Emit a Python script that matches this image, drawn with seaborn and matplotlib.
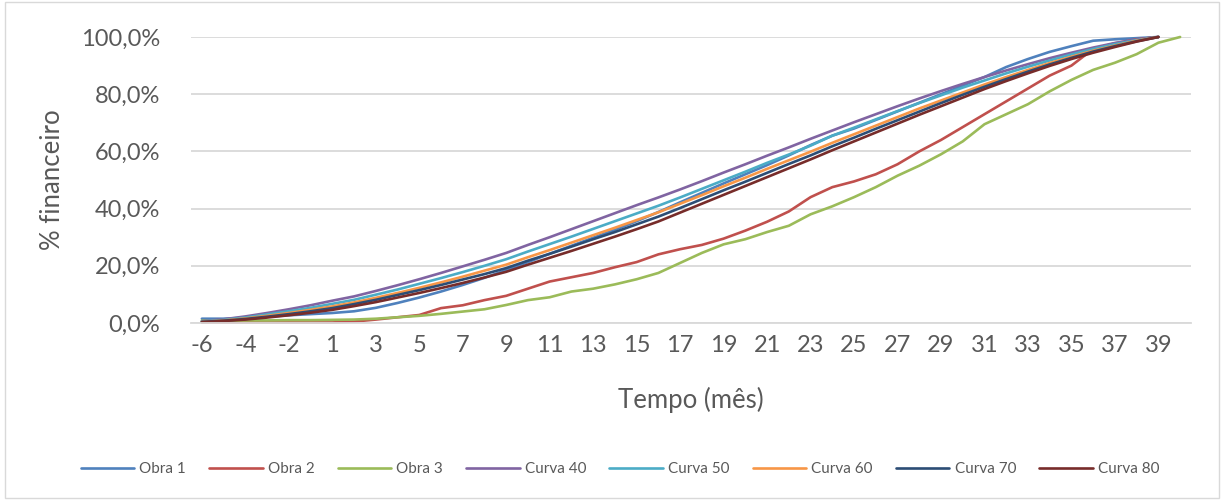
import numpy as np
import pandas as pd
import matplotlib
matplotlib.use("Agg")
import matplotlib.pyplot as plt
from matplotlib.ticker import FuncFormatter, FixedLocator
from matplotlib.patches import Rectangle
import seaborn as sns

# Months of the schedule (there is no month 0)
months = list(range(-6, 0)) + list(range(1, 41))

obra_1 = [1.5, 1.5, 1.8, 2.2, 2.7, 3.1, 3.5, 4.1, 5.3, 7.0, 8.9, 11.0, 13.3, 15.8, 18.5, 21.3,
          24.2, 27.0, 29.8, 32.6, 35.6, 38.8, 42.2, 45.5, 48.8, 52.0, 55.2, 58.6, 62.2, 65.5,
          68.0, 71.0, 74.0, 77.0, 80.0, 83.0, 86.0, 89.5, 92.3, 94.8, 96.8, 98.7, 99.2, 99.6,
          100.0, None]
obra_2 = [0.2, 0.2, 0.2, 0.2, 0.2, 0.2, 0.2, 0.5, 1.2, 2.0, 2.8, 5.2, 6.2, 8.0, 9.5, 12.0,
          14.5, 16.0, 17.5, 19.5, 21.3, 24.0, 25.8, 27.3, 29.5, 32.3, 35.4, 39.0, 44.0, 47.5,
          49.5, 52.0, 55.5, 60.0, 64.0, 68.5, 73.0, 77.5, 82.0, 86.5, 90.0, 95.8, 97.8, 99.2,
          100.0, None]
obra_3 = [0.8, 0.8, 0.9, 0.9, 1.0, 1.0, 1.1, 1.2, 1.5, 2.0, 2.5, 3.2, 4.0, 4.8, 6.3, 8.0,
          9.0, 11.0, 12.0, 13.5, 15.3, 17.5, 21.0, 24.5, 27.5, 29.3, 31.8, 34.0, 38.0, 40.8,
          44.0, 47.5, 51.5, 55.0, 59.0, 63.5, 69.5, 73.0, 76.5, 81.0, 85.0, 88.5, 91.0, 94.0,
          98.0, 100.0]
curva_40 = [0.6, 1.3, 2.3, 3.5, 4.8, 6.2, 7.8, 9.3, 11.2, 13.2, 15.3, 17.5, 19.8, 22.1, 24.5,
            27.3, 30.0, 32.8, 35.6, 38.4, 41.2, 43.9, 46.7, 49.6, 52.6, 55.5, 58.5, 61.4, 64.4,
            67.3, 70.2, 73.0, 75.8, 78.5, 81.1, 83.6, 86.0, 88.3, 90.5, 92.6, 94.5, 96.3, 97.9,
            99.1, 100.0, None]
curva_50 = [0.5, 1.1, 1.9, 3.0, 4.1, 5.3, 6.7, 8.1, 9.9, 11.7, 13.7, 15.7, 17.8, 20.0, 22.3,
            25.0, 27.6, 30.2, 32.9, 35.6, 38.3, 41.0, 43.9, 46.9, 49.9, 52.9, 56.0, 58.9, 62.0,
            65.5, 68.3, 71.2, 74.1, 76.9, 79.6, 82.3, 84.8, 87.3, 89.6, 91.8, 93.9, 95.8, 97.5,
            98.9, 100.0, None]
curva_60 = [0.4, 0.9, 1.6, 2.5, 3.5, 4.6, 5.8, 7.2, 8.8, 10.5, 12.3, 14.2, 16.2, 18.3, 20.4,
            23.0, 25.5, 28.1, 30.7, 33.3, 36.0, 38.7, 41.7, 44.7, 47.8, 50.8, 53.9, 56.9, 59.9,
            63.0, 66.0, 69.0, 72.0, 75.0, 77.8, 80.6, 83.4, 86.0, 88.5, 90.9, 93.1, 95.2, 97.0,
            98.7, 100.0, None]
curva_70 = [0.4, 0.8, 1.4, 2.2, 3.1, 4.1, 5.2, 6.6, 8.1, 9.8, 11.5, 13.3, 15.2, 17.1, 19.2,
            21.8, 24.2, 26.7, 29.3, 31.8, 34.5, 37.2, 40.2, 43.3, 46.4, 49.4, 52.5, 55.6, 58.6,
            61.8, 64.8, 67.9, 70.9, 73.9, 76.9, 79.8, 82.6, 85.3, 87.9, 90.4, 92.7, 94.9, 96.8,
            98.5, 100.0, None]
curva_80 = [0.3, 0.7, 1.2, 1.9, 2.7, 3.6, 4.6, 5.9, 7.3, 8.9, 10.5, 12.2, 14.0, 15.9, 17.9,
            20.4, 22.8, 25.2, 27.7, 30.2, 32.8, 35.5, 38.6, 41.7, 44.8, 47.9, 51.0, 54.1, 57.2,
            60.4, 63.5, 66.6, 69.7, 72.8, 75.8, 78.8, 81.8, 84.6, 87.3, 89.9, 92.3, 94.5, 96.5,
            98.4, 100.0, None]

series_names = ["Obra 1", "Obra 2", "Obra 3", "Curva 40", "Curva 50", "Curva 60", "Curva 70", "Curva 80"]
series_values = [obra_1, obra_2, obra_3, curva_40, curva_50, curva_60, curva_70, curva_80]
colors = ["#4F81BD", "#C0504D", "#9BBB59", "#8064A2", "#4BACC6", "#F79646", "#2C4D75", "#772C2A"]

# Long-form table: one row per (series, month); x is the category position
rows = []
for name, vals in zip(series_names, series_values):
    for pos, (m, v) in enumerate(zip(months, vals)):
        if v is not None:
            rows.append({"pos": pos, "mes": m, "valor": v / 100.0, "serie": name})
df = pd.DataFrame(rows)

sns.set_theme(style="white")
plt.rcParams["font.family"] = ["Lato", "DejaVu Sans"]
text_color = "#595959"

fig = plt.figure(figsize=(12.24, 5.0), dpi=100)
ax = fig.add_axes([191 / 1224, 1 - 323 / 500, 1000 / 1224, 286 / 500])

sns.lineplot(data=df, x="pos", y="valor", hue="serie", hue_order=series_names,
             palette=dict(zip(series_names, colors)), linewidth=1.9, sort=True,
             estimator=None, legend=True, ax=ax, clip_on=False)

ax.set_xlim(-0.5, len(months) - 0.5)
ax.set_ylim(0, 1)
ax.yaxis.set_major_locator(FixedLocator(np.arange(0, 1.01, 0.2)))
ax.yaxis.set_major_formatter(FuncFormatter(lambda v, _: f"{v * 100:.1f}%".replace(".", ",")))
tick_pos = list(range(0, len(months) - 1, 2))
ax.set_xticks(tick_pos)
ax.set_xticklabels([str(months[p]) for p in tick_pos])

ax.grid(axis="y", color="#D9D9D9", linewidth=1.3)
ax.set_axisbelow(True)
for side in ["top", "right", "left"]:
    ax.spines[side].set_visible(False)
ax.spines["bottom"].set_color("#D9D9D9")
ax.spines["bottom"].set_linewidth(1.3)
ax.tick_params(axis="both", length=0, labelsize=17, colors=text_color)
ax.tick_params(axis="y", pad=22)
ax.tick_params(axis="x", pad=9)

ax.set_xlabel("Tempo (mês)", fontsize=18.5, color=text_color, labelpad=22)
ax.set_ylabel("% financeiro", fontsize=18.5, color=text_color, labelpad=12)

handles, labels = ax.get_legend_handles_labels()
ax.get_legend().remove()
fig.legend(handles, labels, loc="center", bbox_to_anchor=(620 / 1224, 1 - 469 / 500), ncol=8,
           frameon=False, fontsize=11, handlelength=3.5, columnspacing=1.5, handletextpad=0.35,
           labelcolor=text_color)

# chart-area border
fig.patches.append(Rectangle((5 / 1224, 2 / 500), 1214 / 1224, 496 / 500, transform=fig.transFigure,
                             fill=False, edgecolor="#D9D9D9", linewidth=1.0))

fig.savefig("out.png", dpi=100, facecolor="white")
